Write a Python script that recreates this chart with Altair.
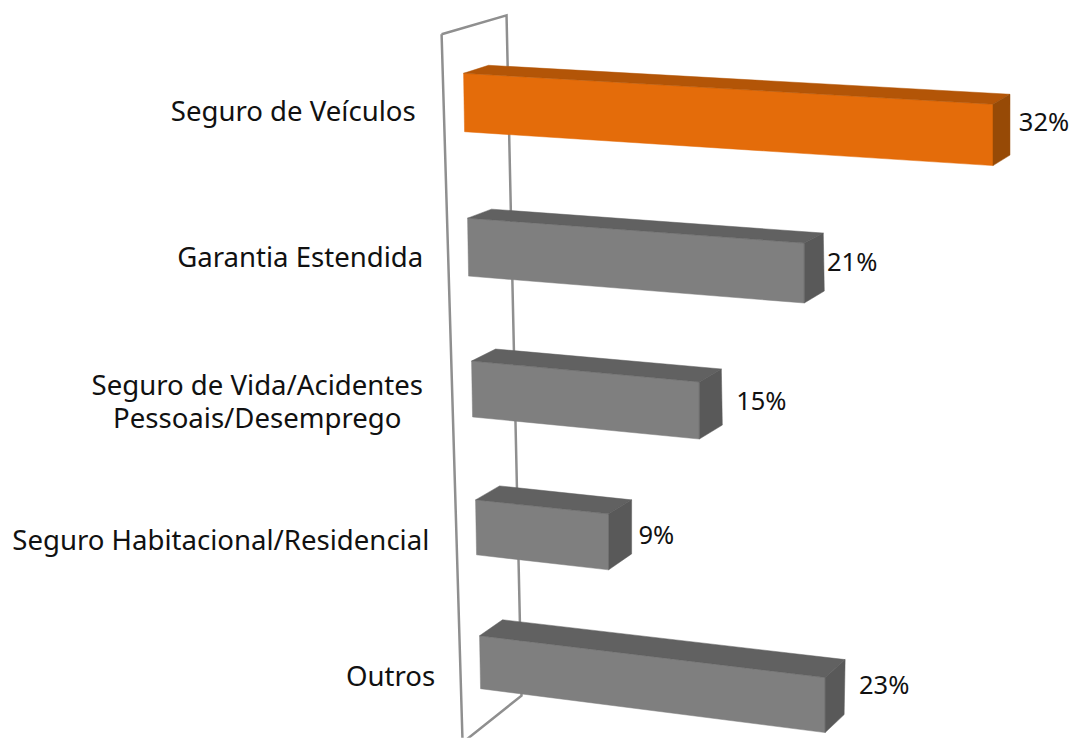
import altair as alt
import pandas as pd

# ---- chart values ----
categories = ["Seguro de Veículos", "Garantia Estendida",
              ["Seguro de Vida/Acidentes", "Pessoais/Desemprego"],
              "Seguro Habitacional/Residencial", "Outros"]
values = [32, 21, 15, 9, 23]
highlight = [True, False, False, False, False]

# ---- oblique 3-D projection of the category rows onto the picture plane ----
X0 = [464, 468, 472, 476, 480]           # wall foot of each row
Y0 = [73, 218, 361, 500, 636]
HGT = [58.5, 58, 56, 55, 53]             # front height
K = [16.56, 16.05, 15.2, 14.8, 15.04]    # picture units per percent
SLOPE_T = [0.0585, 0.074, 0.092, 0.105, 0.121]
SLOPE_B = [0.064, 0.080, 0.097, 0.113, 0.127]
DEPTH_L = [(25, 8), (24, 9), (24, 12), (24, 14), (23, 16)]
DEPTH_R = [(17, 10), (19, 10), (22, 13), (23, 14), (20, 18)]
DEPTH_RB = [(17, 10.5), (20, 12), (23, 14), (23, 16), (19, 18)]
LABEL_POS = [(293.5, 113), (300.5, 259), (257.5, 387), (221, 542), (391, 678)]
VALUE_POS = [(1045, 123), (853, 263), (762, 402), (657, 536), (885, 686)]
WALL = [(442, 34), (507, 15), (522, 696), (463, 743), (442, 34)]

FRONT = {True: "#E46C0A", False: "#7F7F7F"}
TOP = {True: "#B35507", False: "#616161"}
SIDE = {True: "#974A06", False: "#595959"}

rows = []
for i, v in enumerate(values):
    hl = highlight[i]
    x0, y0, h = X0[i], Y0[i], HGT[i]
    x1 = x0 + K[i] * v
    run = x1 - x0
    tl = (x0, y0)
    bl = (x0 + 1, y0 + h)
    tr = (x1, y0 + SLOPE_T[i] * run)
    br = (x1, y0 + h + SLOPE_B[i] * run)
    tlb = (tl[0] + DEPTH_L[i][0], tl[1] - DEPTH_L[i][1])
    trb = (tr[0] + DEPTH_R[i][0], tr[1] - DEPTH_R[i][1])
    brb = (br[0] + DEPTH_RB[i][0], br[1] - DEPTH_RB[i][1])
    faces = [("front", FRONT[hl], [tl, tr, br, bl, tl]),
             ("top", TOP[hl], [tl, tlb, trb, tr, tl]),
             ("side", SIDE[hl], [tr, trb, brb, br, tr])]
    for name, col, pts in faces:
        for k, (x, y) in enumerate(pts):
            rows.append({"face": f"{i}-{name}", "col": col, "k": k, "x": x, "y": y})
bars = pd.DataFrame(rows)

wall = pd.DataFrame([{"k": k, "x": x, "y": y} for k, (x, y) in enumerate(WALL)])

labels = pd.DataFrame([{"t": c, "x": p[0], "y": p[1]} for c, p in zip(categories, LABEL_POS)])
vals = pd.DataFrame([{"t": f"{v}%", "x": p[0], "y": p[1]} for v, p in zip(values, VALUE_POS)])

xs = alt.Scale(domain=[8, 1070], range=[0, 1062], nice=False, zero=False)
ys = alt.Scale(domain=[8, 738], range=[0, 730], nice=False, zero=False)
X = alt.X("x:Q", scale=xs, axis=None)
Y = alt.Y("y:Q", scale=ys, axis=None)

wall_layer = alt.Chart(wall).mark_line(stroke="#8F8F8F", strokeWidth=2.5, clip=True).encode(
    x=X, y=Y, order="k:Q")

bar_layer = alt.Chart(bars).mark_line(strokeWidth=0.5, clip=True, filled=True).encode(
    x=X, y=Y, order="k:Q", detail="face:N",
    fill=alt.Fill("col:N", scale=None),
    stroke=alt.Stroke("col:N", scale=None))

FONT = "Noto Sans"
lab_layer = alt.Chart(labels).mark_text(font=FONT, fontSize=27.6, color="#111111",
                                        align="center", baseline="middle", lineHeight=33).encode(
    x=X, y=Y, text="t")
val_layer = alt.Chart(vals).mark_text(font=FONT, fontSize=25.5, color="#111111",
                                      align="center", baseline="middle").encode(
    x=X, y=Y, text="t:N")

chart = alt.layer(wall_layer, bar_layer, lab_layer, val_layer).properties(
    width=1062, height=730, padding=0, background="white"
).configure_view(stroke=None)

chart.save("out.html", embed_options={"renderer": "svg", "actions": False})
